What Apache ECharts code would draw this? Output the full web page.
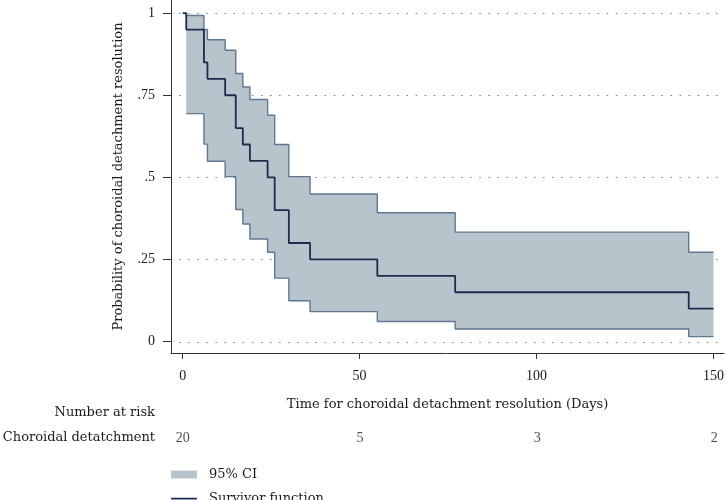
<!DOCTYPE html>
<html>
<head>
<meta charset="utf-8">
<script src="https://cdn.jsdelivr.net/npm/echarts@6/dist/echarts.min.js"></script>
<style>
html,body{margin:0;padding:0;background:#fff;}
#chart{width:727px;height:500px;}
</style>
</head>
<body>
<div id="chart"></div>
<script>
// Kaplan-Meier survivor function
const times = [0, 1, 6, 7, 12, 15, 17, 19, 24, 26, 30, 36, 55, 77, 143, 150];
const survival = [1, 0.95, 0.85, 0.80, 0.75, 0.65, 0.60, 0.55, 0.50, 0.40, 0.30, 0.25, 0.20, 0.15, 0.10, 0.10];
// 95% confidence band
const ciTimes = [1, 6, 7, 12, 15, 17, 19, 24, 26, 30, 36, 55, 77, 143, 150];
const ciUpper = [0.993, 0.950, 0.919, 0.887, 0.816, 0.775, 0.737, 0.689, 0.600, 0.502, 0.449, 0.392, 0.333, 0.272, 0.272];
const ciLower = [0.694, 0.601, 0.549, 0.502, 0.402, 0.358, 0.312, 0.272, 0.193, 0.124, 0.091, 0.061, 0.038, 0.015, 0.015];
// ticks
const xTicks = [0, 50, 100, 150];
const yTicks = [0, 0.25, 0.5, 0.75, 1];
const yTickLabels = ['0', '.25', '.5', '.75', '1'];
// number at risk
const riskTimes = [0, 50, 100, 150];
const riskCounts = [20, 5, 3, 2];

const NUMFONT = 'Liberation Serif';
const WORDFONT = 'DejaVu Serif';
const TXT = '#1a1a1a';
const X_MIN = -3.3, X_MAX = 153;
const Y_MIN = -0.035, Y_MAX = 1.04;

const chart = echarts.init(document.getElementById('chart'), null, {renderer: 'canvas'});

const zip = (a, b) => a.map((v, i) => [v, b[i]]);
const LINE_ICON = 'path://M0,0h26v0.01h-26z M0,3.2h26v1.7h-26z M0,8h26v0.01h-26z';

const legendCommon = {
  orient: 'horizontal', left: 171, padding: 0,
  itemWidth: 26, itemHeight: 8,
  textStyle: {fontFamily: WORDFONT, fontSize: 13, color: TXT, padding: [0, 0, 0, 7]}
};

const option = {
  animation: false,
  backgroundColor: '#fff',
  textStyle: {fontFamily: NUMFONT, color: TXT},
  grid: [
    {left: 171, right: 2, top: 0, height: 353, containLabel: false},
    {left: 171, right: 2, top: 428, height: 20, containLabel: false}
  ],
  xAxis: [
    {
      type: 'value', gridIndex: 0, min: X_MIN, max: X_MAX,
      name: 'Time for choroidal detachment resolution (Days)',
      nameLocation: 'middle', nameGap: 45,
      nameTextStyle: {fontFamily: WORDFONT, fontSize: 13, color: TXT},
      axisLine: {show: true, onZero: false, lineStyle: {color: '#333', width: 1}},
      axisTick: {show: true, length: 6, customValues: xTicks, lineStyle: {color: '#333'}},
      axisLabel: {show: true, customValues: xTicks, margin: 16, fontFamily: NUMFONT, fontSize: 14, color: TXT},
      splitLine: {show: false}
    },
    {type: 'value', gridIndex: 1, min: X_MIN, max: X_MAX, show: false}
  ],
  yAxis: [
    {
      type: 'value', gridIndex: 0, min: Y_MIN, max: Y_MAX,
      name: 'Probability of choroidal detachment resolution',
      nameLocation: 'middle', nameGap: 46,
      nameTextStyle: {fontFamily: WORDFONT, fontSize: 13, color: TXT},
      axisLine: {show: true, onZero: false, lineStyle: {color: '#333', width: 1}},
      axisTick: {show: true, length: 8, customValues: yTicks, lineStyle: {color: '#333'}},
      axisLabel: {
        show: true, customValues: yTicks, margin: 16, fontFamily: NUMFONT, fontSize: 14, color: TXT,
        formatter: function (v) {
          const i = yTicks.findIndex(t => Math.abs(t - v) < 1e-9);
          return i >= 0 ? yTickLabels[i] : '';
        }
      },
      splitLine: {show: false}
    },
    {type: 'value', gridIndex: 1, min: 0, max: 1, show: false}
  ],
  legend: [
    Object.assign({}, legendCommon, {top: 468, data: [{name: '95% CI', icon: 'rect'}]}),
    Object.assign({}, legendCommon, {top: 492, data: [{name: 'Survivor function', icon: LINE_ICON}]})
  ],
  graphic: [
    {type: 'text', x: 155, y: 413, style: {text: 'Number at risk', align: 'right', verticalAlign: 'middle', fontFamily: WORDFONT, fontSize: 13, fill: TXT}},
    {type: 'text', x: 155, y: 438, style: {text: 'Choroidal detatchment', align: 'right', verticalAlign: 'middle', fontFamily: WORDFONT, fontSize: 13, fill: TXT}}
  ],
  series: [
    {
      type: 'custom', name: 'gridlines', xAxisIndex: 0, yAxisIndex: 0, z: 1, silent: true,
      data: yTicks.map(v => [0, v]),
      renderItem: function (params, api) {
        const v = yTicks[params.dataIndex];
        const a = api.coord([X_MIN, v]);
        const b = api.coord([X_MAX, v]);
        return {
          type: 'line',
          shape: {x1: a[0] + 8, y1: Math.round(a[1]) + 0.5, x2: b[0], y2: Math.round(b[1]) + 0.5},
          style: {stroke: '#808080', lineWidth: 1.2, lineDash: [1.5, 7.6]}
        };
      }
    },
    {
      type: 'custom', name: '95% CI', xAxisIndex: 0, yAxisIndex: 0, z: 2,
      itemStyle: {color: '#b8c4cc'},
      data: [[ciTimes[0], ciLower[0]]],
      renderItem: function (params, api) {
        const pts = [];
        const n = ciTimes.length;
        for (let i = 0; i < n - 1; i++) {
          pts.push(api.coord([ciTimes[i], ciUpper[i]]));
          pts.push(api.coord([ciTimes[i + 1], ciUpper[i]]));
        }
        for (let i = n - 2; i >= 0; i--) {
          pts.push(api.coord([ciTimes[i + 1], ciLower[i]]));
          pts.push(api.coord([ciTimes[i], ciLower[i]]));
        }
        return {type: 'polygon', shape: {points: pts}, style: {fill: '#b8c4cc', stroke: null}};
      }
    },
    {
      type: 'line', name: 'upper', xAxisIndex: 0, yAxisIndex: 0, z: 3,
      step: 'end', showSymbol: false, symbol: 'none', silent: true,
      lineStyle: {color: '#5f7790', width: 1.4},
      data: zip(ciTimes, ciUpper)
    },
    {
      type: 'line', name: 'lower', xAxisIndex: 0, yAxisIndex: 0, z: 3,
      step: 'end', showSymbol: false, symbol: 'none', silent: true,
      lineStyle: {color: '#5f7790', width: 1.4},
      data: zip(ciTimes, ciLower)
    },
    {
      type: 'line', name: 'Survivor function', xAxisIndex: 0, yAxisIndex: 0, z: 4,
      step: 'end', showSymbol: false, symbol: 'none',
      itemStyle: {color: '#1b2d4e'},
      lineStyle: {color: '#1b2d4e', width: 1.8},
      data: zip(times, survival)
    },
    {
      type: 'scatter', name: 'risk', xAxisIndex: 1, yAxisIndex: 1, silent: true,
      symbolSize: 1, itemStyle: {color: 'rgba(0,0,0,0)'},
      label: {show: true, position: 'inside', formatter: p => String(p.data[2]), fontFamily: NUMFONT, fontSize: 14, color: TXT},
      data: riskTimes.map((t, i) => [t, 0.5, riskCounts[i]])
    }
  ]
};
chart.setOption(option);
</script>
</body>
</html>
